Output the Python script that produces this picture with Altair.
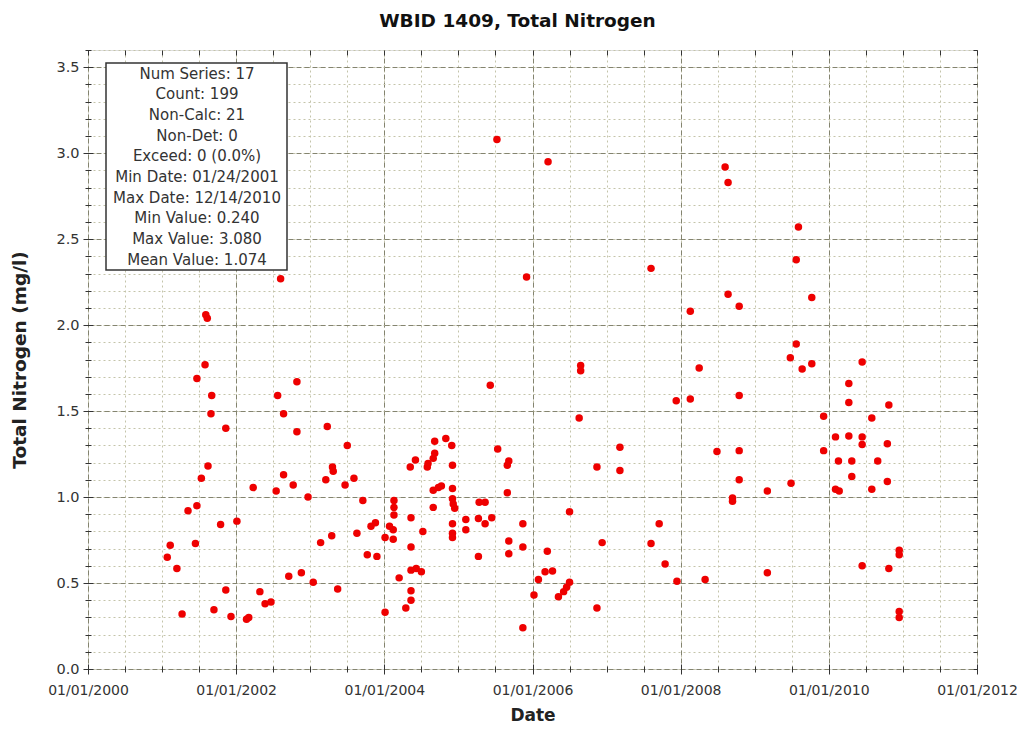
import altair as alt
import pandas as pd

# Sample dates (decimal years) and Total Nitrogen values (mg/l)
years = [
    2001.59, 2001.61, 2001.58, 2001.47, 2001.67, 2001.66, 2001.86, 2001.62, 2001.53, 2002.23,
    2001.47, 2001.35, 2001.79, 2002.01, 2001.11, 2001.45, 2001.07, 2001.20, 2001.86, 2001.27,
    2001.70, 2001.93, 2002.14, 2002.17,
    2002.60, 2002.82, 2002.56, 2002.64, 2002.82, 2003.23, 2003.50, 2003.30, 2003.31, 2002.64,
    2002.54, 2002.77, 2003.21, 2003.47, 2003.59, 2002.97, 2003.71, 2003.82, 2003.88, 2003.63,
    2003.29, 2003.14, 2003.77, 2003.90, 2002.71, 2002.88, 2003.04, 2003.37, 2002.32, 2002.39,
    2002.47, 2004.01,
    2004.68, 2004.83, 2004.91, 2005.53, 2005.68, 2005.66, 2004.68, 2004.66, 2004.59, 2004.58,
    2004.42, 2004.35, 2004.92, 2005.66, 2004.66, 2004.73, 2004.77, 2004.92, 2004.92, 2004.93,
    2004.95, 2004.66, 2005.28, 2005.36, 2004.13, 2004.13, 2004.13, 2004.36, 2005.10, 2005.27,
    2005.36, 2005.45, 2004.92, 2005.87, 2005.10, 2004.07, 2004.12, 2004.01, 2004.12, 2004.52,
    2004.92, 2004.92, 2005.68, 2005.68, 2005.87, 2004.36, 2005.27, 2004.36, 2004.43, 2004.50,
    2004.20, 2004.36, 2004.36, 2004.29, 2005.87,
    2005.52, 2006.21, 2005.92, 2005.43, 2007.60, 2006.65, 2006.65, 2006.63, 2007.94, 2007.18,
    2006.87, 2007.18, 2006.50, 2007.71, 2006.20, 2006.94, 2007.60, 2007.79, 2007.95, 2006.17,
    2006.27, 2006.08, 2006.02, 2006.35, 2006.42, 2006.46, 2006.50, 2006.87,
    2008.60, 2008.64, 2009.59, 2009.56, 2008.64, 2009.77, 2008.79, 2008.13, 2009.56, 2009.48,
    2009.64, 2009.77, 2008.25, 2008.13, 2008.79, 2009.93, 2008.49, 2008.79, 2009.93, 2008.79,
    2009.49, 2009.17, 2008.70, 2008.70, 2009.17, 2008.33,
    2010.45, 2010.27, 2010.27, 2010.81, 2010.58, 2010.09, 2010.27, 2010.45, 2010.45, 2010.79,
    2010.13, 2010.31, 2010.66, 2010.31, 2010.79, 2010.09, 2010.14, 2010.58, 2010.95, 2010.95,
    2010.45, 2010.81, 2010.95, 2010.95,
]
values = [
    2.06, 2.04, 1.77, 1.69, 1.59, 1.485, 1.40, 1.18, 1.11, 1.055,
    0.95, 0.92, 0.84, 0.86, 0.72, 0.73, 0.65, 0.585, 0.46, 0.32,
    0.345, 0.305, 0.29, 0.30,
    2.27, 1.67, 1.59, 1.485, 1.38, 1.41, 1.30, 1.175, 1.15, 1.13,
    1.035, 1.07, 1.10, 1.07, 1.11, 1.00, 0.98, 0.83, 0.85, 0.79,
    0.775, 0.735, 0.665, 0.655, 0.54, 0.56, 0.505, 0.465, 0.45, 0.38,
    0.39, 0.33,
    1.325, 1.34, 1.30, 1.28, 1.21, 1.185, 1.255, 1.225, 1.195, 1.175,
    1.215, 1.175, 1.185, 1.025, 1.04, 1.055, 1.065, 1.05, 0.99, 0.96,
    0.935, 0.94, 0.97, 0.97, 0.98, 0.94, 0.895, 0.88, 0.87, 0.875,
    0.845, 0.88, 0.845, 0.845, 0.81, 0.83, 0.81, 0.765, 0.755, 0.80,
    0.79, 0.765, 0.745, 0.67, 0.71, 0.71, 0.655, 0.575, 0.585, 0.565,
    0.53, 0.455, 0.40, 0.355, 0.24,
    3.08, 2.95, 2.28, 1.65, 2.33, 1.765, 1.735, 1.46, 1.56, 1.29,
    1.175, 1.155, 0.915, 0.845, 0.685, 0.735, 0.73, 0.61, 0.51, 0.565,
    0.57, 0.52, 0.43, 0.42, 0.45, 0.475, 0.505, 0.355,
    2.92, 2.83, 2.57, 2.38, 2.18, 2.16, 2.11, 2.08, 1.89, 1.81,
    1.745, 1.775, 1.75, 1.57, 1.59, 1.47, 1.265, 1.27, 1.27, 1.10,
    1.08, 1.035, 0.995, 0.975, 0.56, 0.52,
    1.785, 1.66, 1.55, 1.535, 1.46, 1.35, 1.355, 1.35, 1.305, 1.31,
    1.21, 1.21, 1.21, 1.12, 1.09, 1.045, 1.035, 1.045, 0.69, 0.665,
    0.60, 0.585, 0.335, 0.30,
]

x_major_ticks = [2000, 2002, 2004, 2006, 2008, 2010, 2012]
x_minor_ticks = [2000 + 0.5 * i for i in range(25)]
y_major_ticks = [0.0, 0.5, 1.0, 1.5, 2.0, 2.5, 3.0, 3.5]
y_minor_ticks = [round(0.1 * i, 1) for i in range(37)]

stats_lines = [
    "Num Series: 17",
    "Count: 199",
    "Non-Calc: 21",
    "Non-Det: 0",
    "Exceed: 0 (0.0%)",
    "Min Date: 01/24/2001",
    "Max Date: 12/14/2010",
    "Min Value: 0.240",
    "Max Value: 3.080",
    "Mean Value: 1.074",
]

df = pd.DataFrame({"year": years, "value": values})

FONT = "DejaVu Sans"
xscale = alt.Scale(domain=[2000, 2012], nice=False, zero=False)
yscale = alt.Scale(domain=[0, 3.6], nice=False, zero=True)

# minor grid / ticks layer
minor = alt.Chart(df).mark_point(opacity=0).encode(
    x=alt.X("year:Q", scale=xscale, axis=alt.Axis(
        orient="bottom", values=x_minor_ticks, labels=False, title=None, domain=False,
        grid=True, gridColor="#c4c4aa", gridDash=[2, 3], gridWidth=1,
        ticks=True, tickSize=6, offset=-3, tickColor="#333333")),
    y=alt.Y("value:Q", scale=yscale, axis=alt.Axis(
        orient="left", values=y_minor_ticks, labels=False, title=None, domain=False,
        grid=True, gridColor="#c4c4aa", gridDash=[2, 3], gridWidth=1,
        ticks=True, tickSize=6, offset=-3, tickColor="#333333")),
)

# top/right inward ticks
frame_ticks = alt.Chart(df).mark_point(opacity=0).encode(
    x=alt.X("year:Q", scale=xscale, axis=alt.Axis(
        orient="top", values=x_minor_ticks, labels=False, title=None, domain=False,
        grid=False, ticks=True, tickSize=5, offset=-5, tickColor="#333333")),
    y=alt.Y("value:Q", scale=yscale, axis=alt.Axis(
        orient="right", values=y_minor_ticks, labels=False, title=None, domain=False,
        grid=False, ticks=True, tickSize=4, offset=-4, tickColor="#333333")),
)

points = alt.Chart(df).mark_circle(size=56, color="#EE0000", opacity=1).encode(
    x=alt.X("year:Q", scale=xscale, axis=alt.Axis(
        orient="bottom", values=x_major_ticks, labelExpr="'01/01/' + datum.value",
        title="Date", domain=False, grid=True, gridColor="#84846f", gridDash=[5, 3],
        gridWidth=1, ticks=True, tickSize=10, offset=-5, tickColor="#333333",
        labelFont=FONT, labelFontSize=14, labelColor="#333333", labelPadding=9,
        titleFont=FONT, titleFontSize=17, titleFontWeight="bold", titleColor="#222222",
        titlePadding=10, labelFlush=False)),
    y=alt.Y("value:Q", scale=yscale, axis=alt.Axis(
        orient="left", values=y_major_ticks, format=".1f",
        title="Total Nitrogen (mg/l)", domain=False, grid=True, gridColor="#84846f",
        gridDash=[5, 3], gridWidth=1, ticks=True, tickSize=10, offset=-5,
        tickColor="#333333", labelFont=FONT, labelFontSize=14.5, labelColor="#333333",
        labelPadding=4, titleFont=FONT, titleFontSize=18.5, titleFontWeight="bold",
        titleColor="#222222", titlePadding=26, labelFlush=False)),
)

box = alt.Chart(pd.DataFrame({"k": [0]})).mark_rect(
    fill="white", stroke="#333333", strokeWidth=1.5
).encode(x=alt.value(18), x2=alt.value(199), y=alt.value(13), y2=alt.value(220))

stats = alt.Chart(pd.DataFrame({"k": [0]})).mark_text(
    font=FONT, fontSize=15, color="#333333", align="center", baseline="middle",
    lineBreak="\n", lineHeight=20.7
).encode(x=alt.value(109), y=alt.value(23.5), text=alt.value("\n".join(stats_lines)))

chart = alt.layer(minor, frame_ticks, points, box, stats).resolve_axis(
    x="independent", y="independent"
).properties(
    width=889, height=619,
    padding={"left": 80, "top": 42, "right": 40, "bottom": 62},
    autosize=alt.AutoSizeParams(type="none"),
    title=alt.TitleParams("WBID 1409, Total Nitrogen", font=FONT, fontSize=18.5,
                          fontWeight="bold", color="#111111", anchor="middle",
                          dx=-15, offset=19),
).configure_view(
    fill="#FFFFE2", stroke="#444444", strokeWidth=1.5
).configure(background="white")

chart.save("out.html", embed_options={"renderer": "svg", "actions": False})
